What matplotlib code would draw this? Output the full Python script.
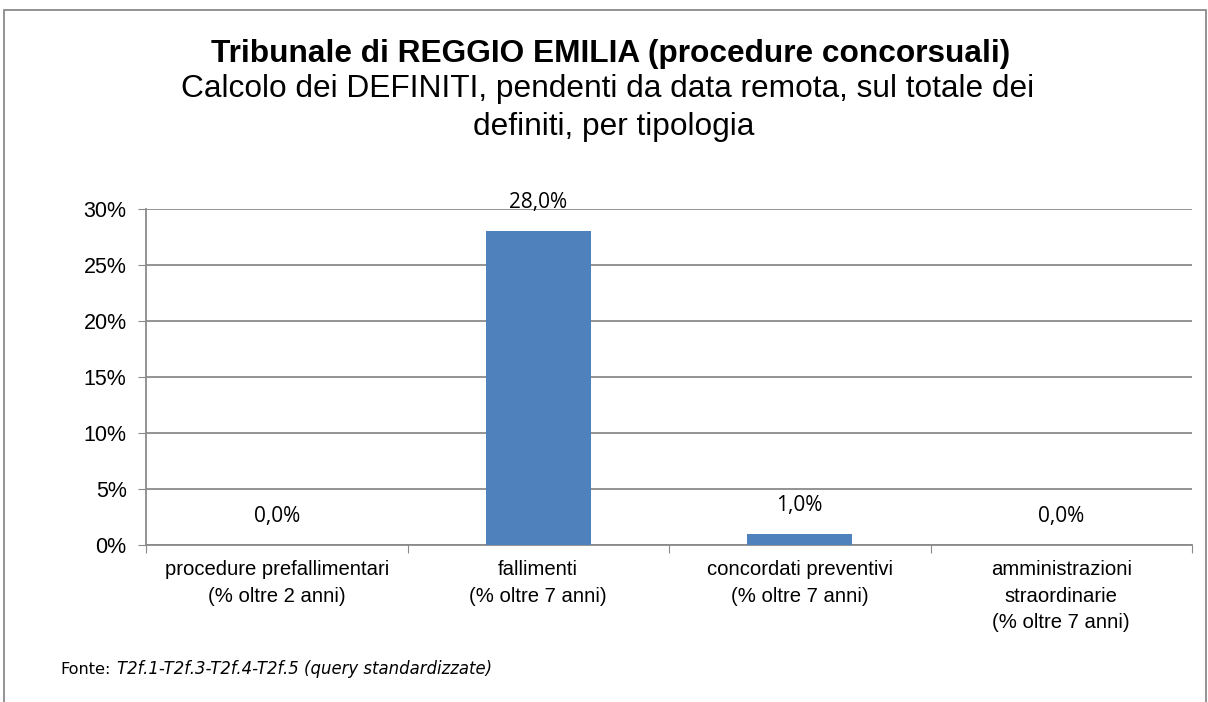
import numpy as np
import matplotlib.pyplot as plt
from matplotlib.patches import Rectangle
from matplotlib.ticker import FuncFormatter

categories = ['procedure prefallimentari\n(% oltre 2 anni)',
              'fallimenti\n(% oltre 7 anni)',
              'concordati preventivi\n(% oltre 7 anni)',
              'amministrazioni\nstraordinarie\n(% oltre 7 anni)']
values = [0.0, 28.0, 1.0, 0.0]
value_labels = ['0,0%', '28,0%', '1,0%', '0,0%']
yticks = [0, 5, 10, 15, 20, 25, 30]

W, H = 1208, 702
fig = plt.figure(figsize=(W / 100, H / 100), dpi=100)
plt.rcParams['font.family'] = ['Liberation Sans', 'DejaVu Sans']
grey = '#8a8a8a'

# frame around the chart
fig.patches.append(Rectangle((4 / W, -0.1), 1202 / W, 1.1 - 10 / H, transform=fig.transFigure,
                             fill=False, edgecolor=grey, linewidth=1.3))

ax = fig.add_axes([146 / W, 1 - 545 / H, (1192 - 146) / W, (545 - 209) / H])
x = np.arange(len(categories))
ax.bar(x, values, width=0.4, color='#4F81BD', zorder=3)
ax.set_xlim(-0.5, len(categories) - 0.5)
ax.set_ylim(0, 30)
ax.set_yticks(yticks)
ax.yaxis.set_major_formatter(FuncFormatter(lambda v, p: '%d%%' % v))
ax.grid(axis='y', color=grey, linewidth=1.3, zorder=0)
for s in ['top', 'right']:
    ax.spines[s].set_visible(False)
for s in ['left', 'bottom']:
    ax.spines[s].set_color(grey)
    ax.spines[s].set_linewidth(1.3)
ax.tick_params(axis='y', length=6, color=grey, labelsize=15.5, pad=8)
ax.set_xticks(np.arange(-0.5, len(categories), 1.0))
ax.set_xticklabels([])
ax.tick_params(axis='x', length=6, color=grey)
ax.set_xticks(x, minor=True)
ax.set_xticklabels(categories, minor=True, fontsize=14.6, linespacing=1.5)
ax.tick_params(axis='x', which='minor', length=0, pad=11)

for xi, v, lab in zip(x, values, value_labels):
    ax.annotate(lab, (xi, v), xytext=(0, 20.5), textcoords='offset points',
                ha='center', va='center', fontsize=15, family=['Open Sans', 'DejaVu Sans'])

fig.text(611 / W, 1 - 62 / H, 'Tribunale di REGGIO EMILIA (procedure concorsuali)',
         ha='center', va='baseline', fontsize=22.8, fontweight='bold')
fig.text(608 / W, 1 - 97 / H, 'Calcolo dei DEFINITI, pendenti da data remota, sul totale dei',
         ha='center', va='baseline', fontsize=22.8)
fig.text(614 / W, 1 - 135 / H, 'definiti, per tipologia',
         ha='center', va='baseline', fontsize=22.8)

fig.text(60 / W, 1 - 674 / H, 'Fonte:', ha='left', va='baseline', fontsize=11.6, family='DejaVu Sans')
fig.text(117 / W, 1 - 674 / H, 'T2f.1-T2f.3-T2f.4-T2f.5 (query standardizzate)',
         ha='left', va='baseline', fontsize=11.9, family='DejaVu Sans', style='italic')

fig.savefig('out.png', dpi=100)
